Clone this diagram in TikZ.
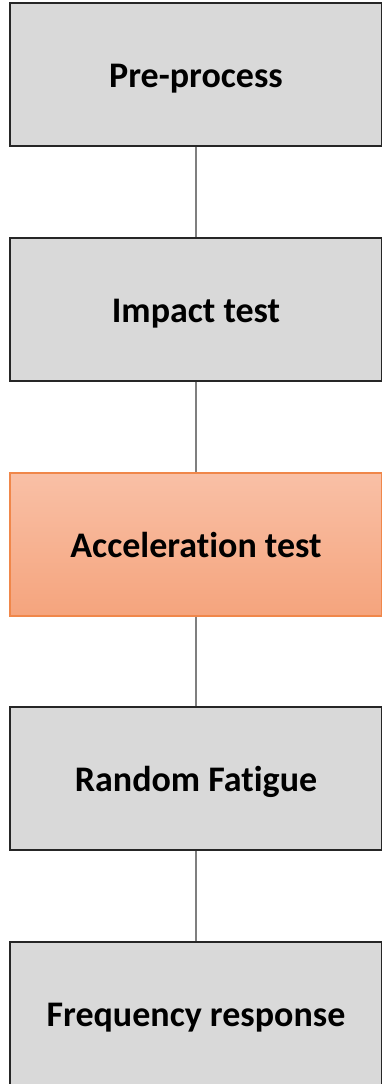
\documentclass[tikz,border=0pt]{standalone}
\usepackage{fontspec}
\setmainfont[Ligatures=NoCommon]{Carlito}
\definecolor{boxgray}{HTML}{D9D9D9}
\definecolor{orangetop}{HTML}{F9C0A6}
\definecolor{orangebot}{HTML}{F5A47D}
\definecolor{orangeedge}{HTML}{F0874A}
\definecolor{linegray}{HTML}{7F7F7F}
\begin{document}
\begin{tikzpicture}[x=1pt,y=-1pt,
  stepbox/.style={draw=black!85,line width=1.6pt,fill=boxgray,minimum width=372pt,minimum height=143pt,font=\bfseries\fontsize{36}{40}\selectfont,inner sep=0pt,text height=25pt,text depth=0pt},
  hotbox/.style={stepbox,draw=orangeedge,top color=orangetop,bottom color=orangebot},
  link/.style={draw=linegray,line width=1.3pt}]
\useasboundingbox (0,0) rectangle (382,1084);
\node[stepbox] (a) at (196,74.5) {Pre-process};
\node[stepbox] (b) at (196,309.5) {Impact test};
\node[hotbox] (c) at (196,544.5) {Acceleration test};
\node[stepbox] (d) at (196,778.5) {Random Fatigue};
\node[stepbox] (e) at (196,1013.5) {Frequency response};
\draw[link] (a) -- (b);
\draw[link] (b) -- (c);
\draw[link] (c) -- (d);
\draw[link] (d) -- (e);
\end{tikzpicture}
\end{document}
